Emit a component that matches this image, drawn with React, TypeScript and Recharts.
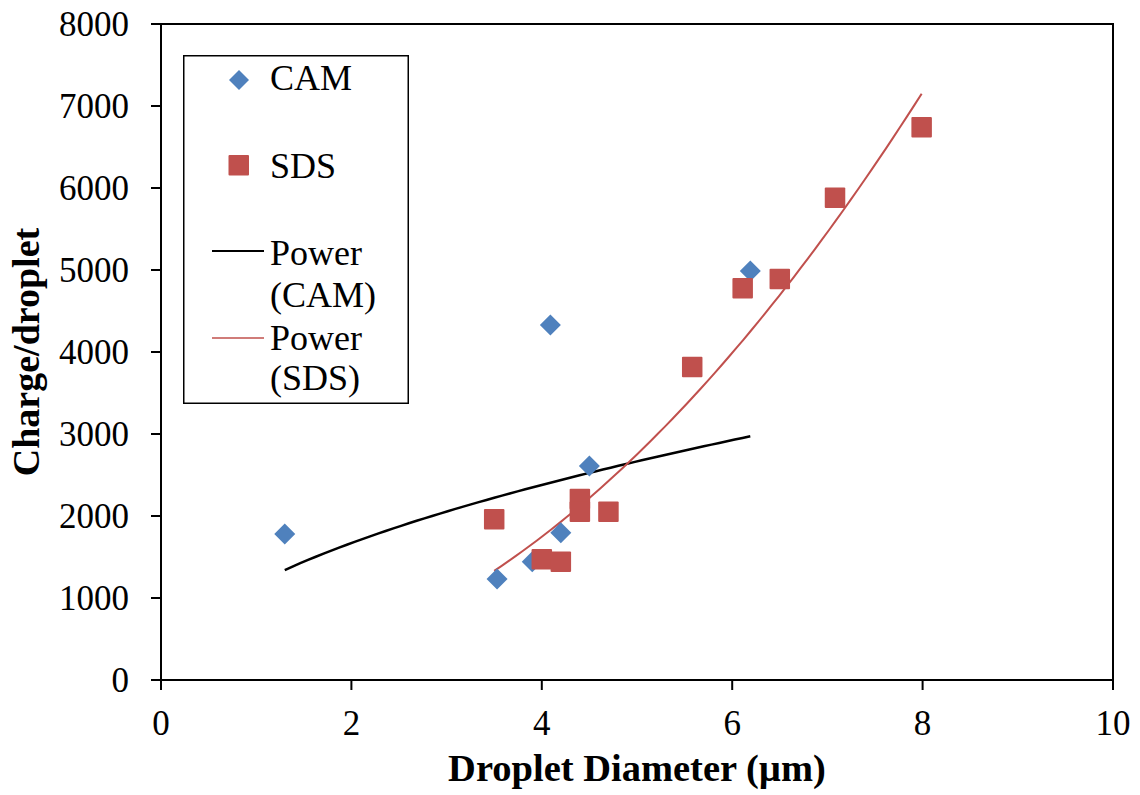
import React from 'react';
import { ScatterChart, Scatter, XAxis, YAxis, ReferenceArea, Legend, Label } from 'recharts';

// Data
const camX = [1.3, 3.53, 3.9, 4.2, 4.09, 4.5, 6.19];
const camY = [1780, 1232, 1443, 1796, 4329, 2610, 4988];
const sdsX = [3.5, 4.0, 4.2, 4.4, 4.4, 4.7, 5.58, 6.11, 6.5, 7.08, 7.99];
const sdsY = [1960, 1472, 1443, 2207, 2052, 2052, 3817, 4776, 4890, 5882, 6740];

// Power trendline coefficients (y = a * x^b)
const camFitA = 1173;
const camFitB = 0.51;
const sdsFitA = 103.7;
const sdsFitB = 2.037;

const xTicks = [0, 2, 4, 6, 8, 10];
const yTicks = [0, 1000, 2000, 3000, 4000, 5000, 6000, 7000, 8000];

const FONT = '"Liberation Serif", "Times New Roman", serif';
const BLUE = '#4F81BD';
const RED = '#C0504D';

const camData = camX.map((x, i) => ({ x, y: camY[i] }));
const sdsData = sdsX.map((x, i) => ({ x, y: sdsY[i] }));

function trend(xs: number[], a: number, b: number) {
  const lo = Math.min(...xs);
  const hi = Math.max(...xs);
  const n = 60;
  const out: { x: number; y: number }[] = [];
  for (let i = 0; i <= n; i++) {
    const x = lo + ((hi - lo) * i) / n;
    out.push({ x, y: a * Math.pow(x, b) });
  }
  return out;
}

const camTrend = trend(camX, camFitA, camFitB);
const sdsTrend = trend(sdsX, sdsFitA, sdsFitB);

const Diamond = (props: any) => {
  const { cx, cy } = props;
  if (cx == null || cy == null) return <g />;
  const r = 10.5;
  return (
    <polygon
      points={`${cx},${cy - r} ${cx + r},${cy} ${cx},${cy + r} ${cx - r},${cy}`}
      fill={BLUE}
    />
  );
};

const Square = (props: any) => {
  const { cx, cy } = props;
  if (cx == null || cy == null) return <g />;
  const s = 20.5;
  return <rect x={cx - s / 2} y={cy - s / 2} width={s} height={s} fill={RED} rx={1} />;
};

const NoShape = () => <g />;

const LegendBox = () => {
  const fs = 36;
  return (
    <svg width={226} height={349} style={{ display: 'block' }}>
      <rect x={0.75} y={0.75} width={224.5} height={347.5} fill="#fff" stroke="#000" strokeWidth={1.5} />
      <polygon points="56,15 66,25 56,35 46,25" fill={BLUE} />
      <text x={87} y={35} fontFamily={FONT} fontSize={fs} fill="#000">CAM</text>
      <rect x={45.5} y={100} width={20.5} height={20.5} fill={RED} rx={1} />
      <text x={87} y={123} fontFamily={FONT} fontSize={fs} fill="#000">SDS</text>
      <line x1={29} y1={196} x2={81} y2={196} stroke="#000" strokeWidth={2} />
      <text x={87} y={210} fontFamily={FONT} fontSize={fs} fill="#000">Power</text>
      <text x={87} y={252} fontFamily={FONT} fontSize={fs} fill="#000">(CAM)</text>
      <line x1={29} y1={283} x2={81} y2={283} stroke={RED} strokeWidth={1.5} />
      <text x={87} y={295} fontFamily={FONT} fontSize={fs} fill="#000">Power</text>
      <text x={87} y={335} fontFamily={FONT} fontSize={fs} fill="#000">(SDS)</text>
    </svg>
  );
};

const tickStyle = { fontFamily: FONT, fontSize: 35, fill: '#000' };

export default function App() {
  return (
    <div style={{ position: 'absolute', left: 0, top: 0, width: 1140, height: 795, background: '#fff' }}>
      <ScatterChart width={1140} height={795} margin={{ top: 24, right: 27, left: 0, bottom: 0 }}>
        <XAxis
          type="number"
          dataKey="x"
          domain={[0, 10]}
          ticks={xTicks}
          allowDataOverflow
          height={115}
          tickSize={10}
          tickMargin={20}
          tick={tickStyle}
          axisLine={{ stroke: '#000', strokeWidth: 2 }}
          tickLine={{ stroke: '#000', strokeWidth: 2 }}
        >
          <Label
            content={(p: any) => {
              const vb = p.viewBox || { x: 161, y: 680, width: 952, height: 115 };
              return (
                <text
                  x={vb.x + vb.width / 2}
                  y={vb.y + 101}
                  textAnchor="middle"
                  fontFamily={FONT}
                  fontWeight="bold"
                  fontSize={38.5}
                  fill="#000"
                >
                  Droplet Diameter (µm)
                </text>
              );
            }}
          />
        </XAxis>
        <YAxis
          type="number"
          dataKey="y"
          domain={[0, 8000]}
          ticks={yTicks}
          allowDataOverflow
          width={161}
          tickSize={10}
          tickMargin={22}
          tick={tickStyle}
          axisLine={{ stroke: '#000', strokeWidth: 2 }}
          tickLine={{ stroke: '#000', strokeWidth: 2 }}
        >
          <Label
            content={(p: any) => {
              const vb = p.viewBox || { x: 0, y: 24, width: 161, height: 656 };
              const cy = vb.y + vb.height / 2;
              return (
                <text
                  x={39}
                  y={cy}
                  transform={`rotate(-90, 39, ${cy})`}
                  textAnchor="middle"
                  fontFamily={FONT}
                  fontWeight="bold"
                  fontSize={38}
                  fill="#000"
                >
                  Charge/droplet
                </text>
              );
            }}
          />
        </YAxis>
        <ReferenceArea x1={0} x2={10} y1={0} y2={8000} fill="none" stroke="#000" strokeWidth={2} ifOverflow="visible" />
        <Scatter
          name="Power (CAM)"
          data={camTrend}
          line={{ stroke: '#000', strokeWidth: 2.5 }}
          shape={NoShape}
          isAnimationActive={false}
          legendType="none"
        />
        <Scatter
          name="Power (SDS)"
          data={sdsTrend}
          line={{ stroke: RED, strokeWidth: 2 }}
          shape={NoShape}
          isAnimationActive={false}
          legendType="none"
        />
        <Scatter name="CAM" data={camData} shape={Diamond} isAnimationActive={false} />
        <Scatter name="SDS" data={sdsData} shape={Square} isAnimationActive={false} />
        <Legend
          layout="horizontal"
          verticalAlign="middle"
          align="center"
          content={() => <LegendBox />}
          wrapperStyle={{ position: 'absolute', left: 183, top: 55, width: 226, height: 349 }}
        />
      </ScatterChart>
    </div>
  );
}
